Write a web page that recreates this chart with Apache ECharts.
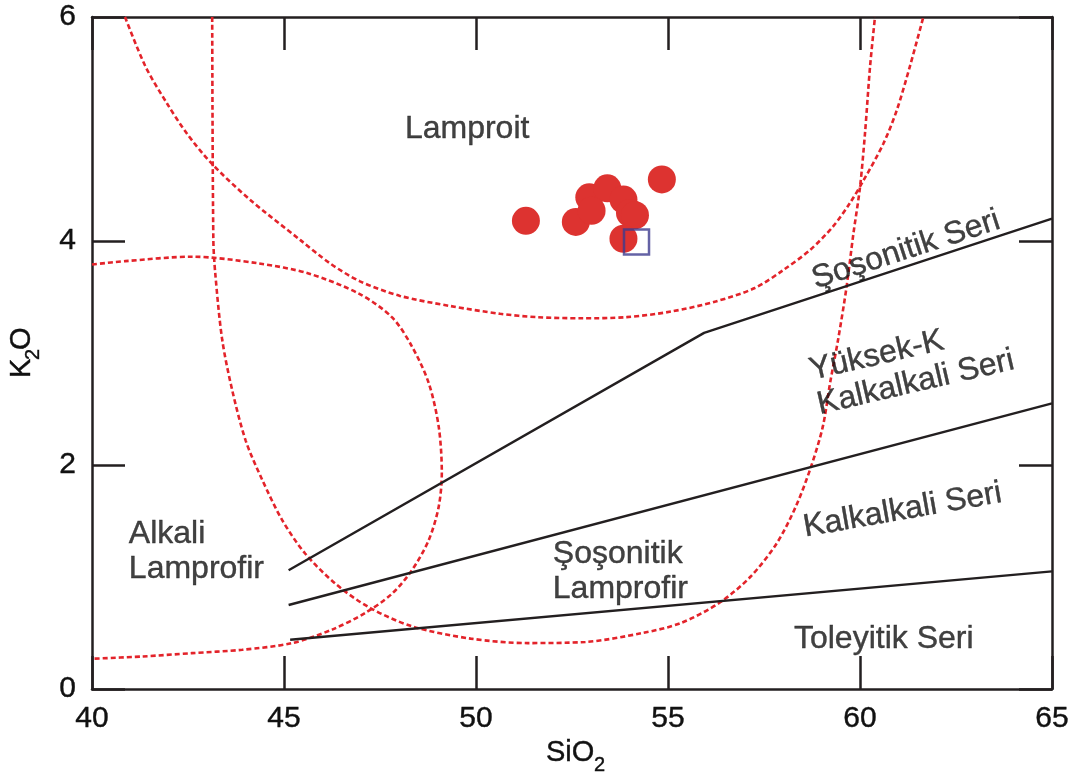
<!DOCTYPE html>
<html><head><meta charset="utf-8">
<script src="https://cdn.jsdelivr.net/npm/echarts@6/dist/echarts.min.js"></script>
<style>html,body{margin:0;padding:0;background:#fff}#c{width:1078px;height:778px}</style>
</head><body><div id="c"></div>
<script>
// ---- data ----
const xTicks = [40, 45, 50, 55, 60, 65];
const yTicks = [0, 2, 4, 6];

// Lamproit field boundary (broad U)
const lamproitSiO2 = [40.86, 41.39, 41.95, 42.47, 43.12, 44.11, 45.42, 46.20, 46.98, 48.02, 49.32, 50.63, 51.59, 52.76, 53.92, 55.08, 56.24, 57.26, 58.00, 58.70, 59.30, 59.74, 60.09, 60.61, 60.96, 61.30, 61.65];
const lamproitK2O  = [6.00, 5.56, 5.23, 4.96, 4.69, 4.37, 4.01, 3.80, 3.64, 3.51, 3.42, 3.35, 3.32, 3.31, 3.32, 3.37, 3.46, 3.58, 3.74, 3.92, 4.13, 4.34, 4.54, 4.87, 5.17, 5.56, 6.00];

// Shoshonitic lamprophyre field boundary (narrow U)
const shoLampSiO2 = [43.13, 43.16, 43.21, 43.39, 43.65, 44.00, 44.43, 44.95, 45.55, 46.34, 47.21, 48.33, 49.86, 51.35, 52.85, 54.34, 55.34, 56.34, 57.14, 57.83, 58.33, 58.72, 59.03, 59.22, 59.43, 59.65, 59.83, 60.00, 60.13, 60.26, 60.39];
const shoLampK2O  = [6.00, 4.01, 3.71, 3.12, 2.67, 2.22, 1.87, 1.51, 1.21, 0.94, 0.73, 0.56, 0.45, 0.41, 0.42, 0.50, 0.59, 0.77, 1.00, 1.30, 1.63, 1.98, 2.34, 2.73, 3.12, 3.59, 4.07, 4.48, 4.96, 5.55, 6.00];

// Alkali lamprophyre field boundary
const alkLampSiO2 = [40.00, 40.87, 42.60, 44.34, 45.64, 46.95, 47.81, 48.33, 48.77, 49.03, 49.11, 49.03, 48.77, 48.33, 47.81, 47.12, 46.25, 45.21, 43.91, 42.60, 41.30, 40.00];
const alkLampK2O  = [3.79, 3.82, 3.86, 3.80, 3.71, 3.53, 3.32, 3.06, 2.73, 2.34, 1.93, 1.63, 1.33, 1.06, 0.85, 0.68, 0.53, 0.41, 0.35, 0.32, 0.29, 0.27];

// Series boundaries
const shoHighKSiO2 = [45.12, 55.94, 65.0];
const shoHighKK2O  = [1.06, 3.18, 4.20];
const highKCalcSiO2 = [45.12, 65.0];
const highKCalcK2O  = [0.75, 2.55];
const calcTholSiO2 = [45.16, 65.0];
const calcTholK2O  = [0.44, 1.05];

// Samples
const sampleSiO2 = [51.30, 52.60, 52.95, 53.42, 53.01, 53.84, 54.01, 54.14, 53.84, 54.84];
const sampleK2O  = [4.18, 4.17, 4.39, 4.47, 4.27, 4.37, 4.25, 4.23, 4.02, 4.55];
const meanSiO2 = [54.18];
const meanK2O  = [3.99];

// Field / series names and where they sit (data units)
const regionNames = ['Lamproit', 'Alkali\nLamprofir', 'Şoşonitik\nLamprofir', 'Toleyitik Seri', 'Şoşonitik Seri', 'Yüksek-K\nKalkalkali Seri', 'Kalkalkali Seri'];
const regionSiO2 = [49.77, 40.96, 52.00, 58.28, 61.20, 58.80, 61.11];
const regionK2O  = [5.00, 1.23, 1.05, 0.446, 3.92, 2.685, 1.594];
const regionAngle = [0, 0, 0, 0, 18, 13, 10];
const regionAlign = ['center', 'left', 'left', 'left', 'center', 'left', 'center'];

// ---- chart ----
const zip = (a, b) => a.map((v, i) => [v, b[i]]);
const FONT = "'Liberation Sans', Arial, sans-serif";
const INK = '#111';
const RED = '#e3232a';

const axisCommon = {
  type: 'value',
  axisLine: { show: true, onZero: false, lineStyle: { color: '#231f20', width: 2.5 } },
  axisTick: { show: true, inside: true, length: 33, lineStyle: { color: '#231f20', width: 2.5 } },
  splitLine: { show: false }
};

const dashed = { color: RED, width: 2.6, type: [5, 3] };
const solid = { color: '#231f20', width: 2.4 };

const txt = (t, x, y, size) => ({ type: 'text', x: x, y: y, style: { text: t, fontSize: size, fontFamily: FONT, fill: INK,
  stroke: INK, lineWidth: 0.4,
  align: 'left', verticalAlign: 'middle', textAlign: 'left', textVerticalAlign: 'middle' } });

const chart = echarts.init(document.getElementById('c'), null, { renderer: 'canvas' });
chart.setOption({
  animation: false,
  backgroundColor: '#fff',
  grid: { left: 92, right: 26, top: 17, bottom: 89 },
  xAxis: [
    Object.assign({}, axisCommon, {
      min: xTicks[0], max: xTicks[xTicks.length - 1], interval: xTicks[1] - xTicks[0], position: 'bottom',
      axisLabel: { fontSize: 30, color: INK, fontFamily: FONT, margin: 15, textBorderColor: INK, textBorderWidth: 0.4 }
    }),
    Object.assign({}, axisCommon, {
      min: xTicks[0], max: xTicks[xTicks.length - 1], interval: xTicks[1] - xTicks[0], position: 'top',
      axisLabel: { show: false }
    })
  ],
  yAxis: [
    Object.assign({}, axisCommon, {
      min: yTicks[0], max: yTicks[yTicks.length - 1], interval: yTicks[1] - yTicks[0], position: 'left',
      axisLabel: { fontSize: 30, color: INK, fontFamily: FONT, margin: 16, textBorderColor: INK, textBorderWidth: 0.4 }
    }),
    Object.assign({}, axisCommon, {
      min: yTicks[0], max: yTicks[yTicks.length - 1], interval: yTicks[1] - yTicks[0], position: 'right',
      axisLabel: { show: false }
    })
  ],
  graphic: [
    txt('SiO', 546, 753, 29),
    txt('2', 594, 765, 20),
    { type: 'group', x: 22, y: 378, rotation: Math.PI / 2, children: [
      txt('K', 0, 0, 29),
      txt('2', 18, 11, 20),
      txt('O', 28, 0, 29)
    ] }
  ],
  series: [
    { name: 'Lamproit', type: 'line', data: zip(lamproitSiO2, lamproitK2O), symbol: 'none', smooth: 0.3, lineStyle: dashed, z: 2 },
    { name: 'Şoşonitik Lamprofir', type: 'line', data: zip(shoLampSiO2, shoLampK2O), symbol: 'none', smooth: 0.3, lineStyle: dashed, z: 2 },
    { name: 'Alkali Lamprofir', type: 'line', data: zip(alkLampSiO2, alkLampK2O), symbol: 'none', smooth: 0.3, lineStyle: dashed, z: 2 },
    { name: 'sho-highK', type: 'line', data: zip(shoHighKSiO2, shoHighKK2O), symbol: 'none', lineStyle: solid, z: 3 },
    { name: 'highK-calc', type: 'line', data: zip(highKCalcSiO2, highKCalcK2O), symbol: 'none', lineStyle: solid, z: 3 },
    { name: 'calc-thol', type: 'line', data: zip(calcTholSiO2, calcTholK2O), symbol: 'none', lineStyle: solid, z: 3 },
    { name: 'samples', type: 'scatter', data: zip(sampleSiO2, sampleK2O), symbol: 'circle', symbolSize: 28,
      itemStyle: { color: '#dd3330', opacity: 1 }, z: 5 },
    { name: 'mean', type: 'scatter', data: zip(meanSiO2, meanK2O), symbol: 'rect', symbolSize: 25,
      itemStyle: { color: 'rgba(0,0,0,0)', borderColor: '#3d3b8e', borderWidth: 2.5 }, z: 6 },
    { name: 'labels', type: 'scatter', symbolSize: 1, silent: true, z: 7,
      itemStyle: { color: 'rgba(0,0,0,0)' },
      data: regionNames.map((n, i) => ({
        name: n, value: [regionSiO2[i], regionK2O[i]],
        label: { show: true, position: 'inside', formatter: n, rotate: regionAngle[i], align: regionAlign[i], verticalAlign: 'middle',
          fontSize: 32, lineHeight: 35, color: INK, fontFamily: FONT, textBorderColor: INK, textBorderWidth: 0.4 }
      }))
    }
  ]
});
</script>
</body></html>
